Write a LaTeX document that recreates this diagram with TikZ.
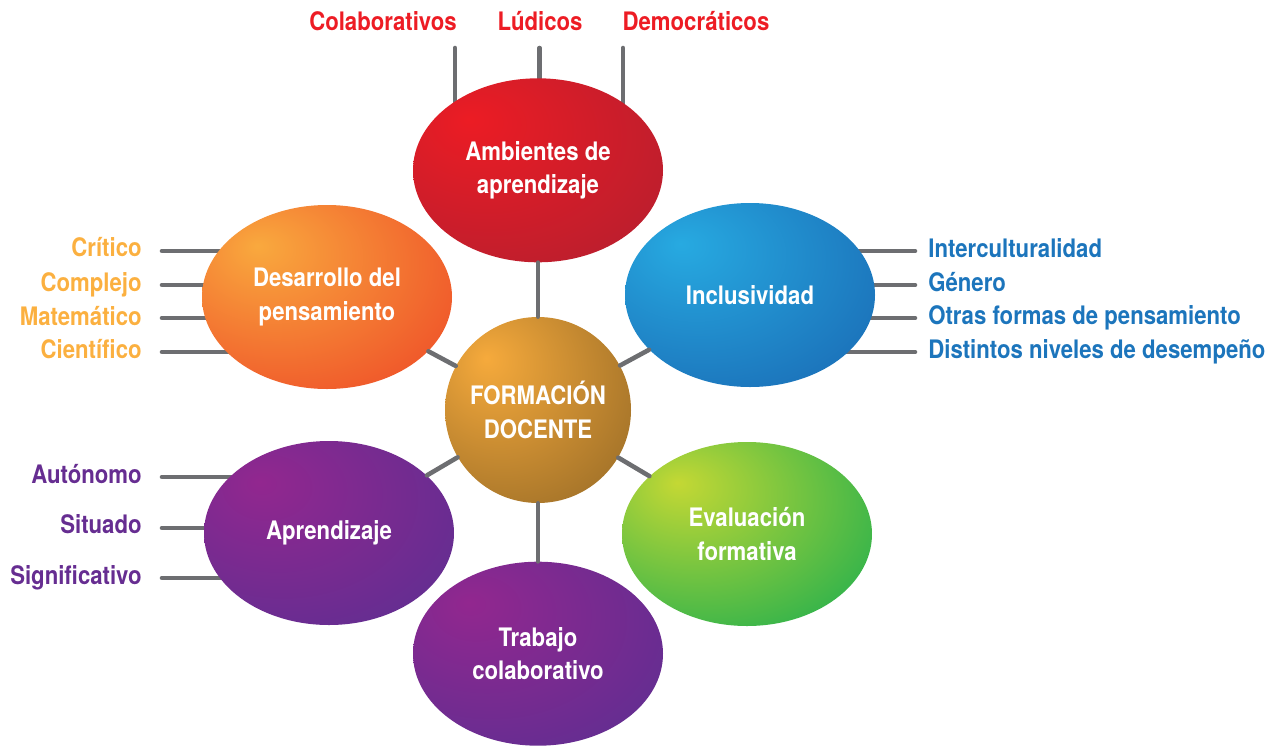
\documentclass[tikz,border=0pt]{standalone}
\usepackage{fontspec}
\setmainfont{TeX Gyre Heros}[FakeStretch=0.87]
\usetikzlibrary{positioning, shapes.geometric, backgrounds}

\definecolor{linegray}{HTML}{6D6E71}
\definecolor{redhl}{HTML}{EC1C24}
\definecolor{redbase}{HTML}{BE1E2D}
\definecolor{orahl}{HTML}{F9A93E}
\definecolor{orabase}{HTML}{F05A2B}
\definecolor{bluhl}{HTML}{27AAE1}
\definecolor{blubase}{HTML}{1C75BC}
\definecolor{grnhl}{HTML}{C4D834}
\definecolor{grnbase}{HTML}{39B54A}
\definecolor{purhl}{HTML}{92278F}
\definecolor{purbase}{HTML}{662D91}
\definecolor{goldhl}{HTML}{F6AA3C}
\definecolor{goldbase}{HTML}{A8762A}
\definecolor{redtxt}{HTML}{ED1C24}
\definecolor{oratxt}{HTML}{FBB040}
\definecolor{blutxt}{HTML}{1C75BC}
\definecolor{purtxt}{HTML}{662D91}

\colorlet{hlcol}{white}
\colorlet{basecol}{black}
\pgfdeclareradialshading[hlcol,basecol]{blob}{\pgfpoint{-14bp}{14bp}}{color(0bp)=(hlcol); color(36bp)=(basecol); color(80bp)=(basecol)}

\begin{document}
\begin{tikzpicture}[
    font=\fontsize{14.5}{19}\selectfont\bfseries,
    blobnode/.style 2 args={ellipse, minimum width=5cm, minimum height=3.68cm, shading=blob,
        /utils/exec={\colorlet{hlcol}{#1}\colorlet{basecol}{#2}}, text=white, align=center},
    hubnode/.style={circle, minimum size=3.72cm, shading=blob,
        /utils/exec={\colorlet{hlcol}{goldhl}\colorlet{basecol}{goldbase}}, text=white, align=center},
    lbl/.style={inner sep=0pt},
    conn/.style={draw=linegray, line width=2.6pt, line cap=round},
    ]
    \useasboundingbox (0,0) rectangle (25.54,-14.92);
    %Nodes
    \node[hubnode] (fd) at (10.76,-8.2) {FORMACIÓN\\DOCENTE};
    \node[blobnode={redhl}{redbase}] (amb) [above=1.08cm of fd] {Ambientes de\\aprendizaje};
    \node[blobnode={purhl}{purbase}] (trab) [below=1.16cm of fd] {Trabajo\\colaborativo};
    \node[blobnode={orahl}{orabase}] (des) at (6.54,-5.94) {Desarrollo del\\pensamiento};
    \node[blobnode={bluhl}{blubase}] (inc) at (15.0,-5.9) {Inclusividad};
    \node[blobnode={purhl}{purbase}] (apr) at (6.58,-10.66) {Aprendizaje};
    \node[blobnode={grnhl}{grnbase}] (eva) at (14.94,-10.68) {Evaluación\\formativa};

    %Labels
    \node[lbl, text=redtxt, anchor=base] (colab) at (7.66,-0.6) {Colaborativos};
    \node[lbl, text=redtxt, anchor=base] (ludi) at (10.8,-0.6) {Lúdicos};
    \node[lbl, text=redtxt, anchor=base] (demo) at (13.92,-0.6) {Democráticos};

    \node[lbl, text=oratxt, anchor=base east] (crit) at (2.84,-5.12) {Crítico};
    \node[lbl, text=oratxt, anchor=base east] (comp) at (2.84,-5.82) {Complejo};
    \node[lbl, text=oratxt, anchor=base east] (mate) at (2.84,-6.5) {Matemático};
    \node[lbl, text=oratxt, anchor=base east] (cien) at (2.84,-7.16) {Científico};

    \node[lbl, text=blutxt, anchor=base west] (inter) at (18.56,-5.14) {Interculturalidad};
    \node[lbl, text=blutxt, anchor=base west] (gen) at (18.56,-5.82) {Género};
    \node[lbl, text=blutxt, anchor=base west] (otras) at (18.56,-6.48) {Otras formas de pensamiento};
    \node[lbl, text=blutxt, anchor=base west] (dist) at (18.56,-7.16) {Distintos niveles de desempeño};

    \node[lbl, text=purtxt, anchor=base east] (auto) at (2.84,-9.66) {Autónomo};
    \node[lbl, text=purtxt, anchor=base east] (situ) at (2.84,-10.66) {Situado};
    \node[lbl, text=purtxt, anchor=base east] (sign) at (2.84,-11.68) {Significativo};

    %Line ends
    \coordinate (t1) at (9.1,-0.96);
    \coordinate (t2) at (10.79,-0.96);
    \coordinate (t3) at (12.46,-0.96);
    \coordinate (l1) at (3.24,-5.02);
    \coordinate (l2) at (3.24,-5.7);
    \coordinate (l3) at (3.24,-6.36);
    \coordinate (l4) at (3.24,-7.04);
    \coordinate (r1) at (18.3,-5.02);
    \coordinate (r2) at (18.3,-5.7);
    \coordinate (r3) at (18.3,-6.36);
    \coordinate (r4) at (18.3,-7.04);
    \coordinate (a1) at (3.24,-9.54);
    \coordinate (a2) at (3.24,-10.56);
    \coordinate (a3) at (3.24,-11.56);

    \draw[conn] (fd)--(amb);
    \draw[conn] (fd)--(trab);
    \draw[conn] (fd)--(des);
    \draw[conn] (fd)--(inc);
    \draw[conn] (fd)--(apr);
    \draw[conn] (fd)--(eva);

    \begin{pgfonlayer}{background}
    \draw[conn] (t1)--(t1 |- amb.center);
    \draw[conn] (t2)--(t2 |- amb.center);
    \draw[conn] (t3)--(t3 |- amb.center);
    \draw[conn] (l1)--(l1 -| des.center);
    \draw[conn] (l2)--(l2 -| des.center);
    \draw[conn] (l3)--(l3 -| des.center);
    \draw[conn] (l4)--(l4 -| des.center);
    \draw[conn] (r1)--(r1 -| inc.center);
    \draw[conn] (r2)--(r2 -| inc.center);
    \draw[conn] (r3)--(r3 -| inc.center);
    \draw[conn] (r4)--(r4 -| inc.center);
    \draw[conn] (a1)--(a1 -| apr.center);
    \draw[conn] (a2)--(a2 -| apr.center);
    \draw[conn] (a3)--(a3 -| apr.center);
    \end{pgfonlayer}
    \end{tikzpicture}
\end{document}
